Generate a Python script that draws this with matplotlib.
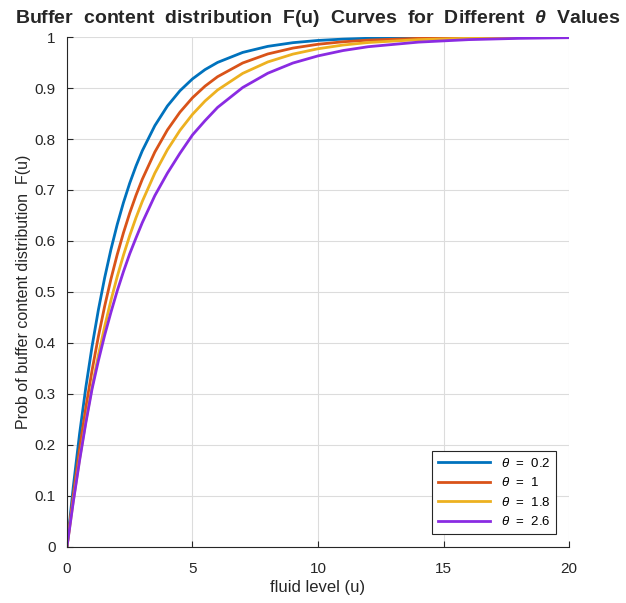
import matplotlib
matplotlib.use("Agg")
import matplotlib.pyplot as plt

# fluid level u and F(u)
u = [0, 0.25, 0.5, 0.75, 1, 1.25, 1.5, 1.75, 2, 2.25, 2.5, 2.75, 3, 3.5, 4, 4.5,
     5, 5.5, 6, 7, 8, 9, 10, 11, 12, 14, 16, 18, 20]

f_02 = [0, 0.1175, 0.2212, 0.3127, 0.3935, 0.4647, 0.5276, 0.5831, 0.6321, 0.6753,
        0.7135, 0.7471, 0.7769, 0.8262, 0.8647, 0.8946, 0.9179, 0.9361, 0.9502,
        0.9698, 0.9817, 0.9889, 0.9933, 0.9959, 0.9975, 0.9991, 0.9997, 0.9999, 1.0]
f_1 = [0, 0.1009, 0.1917, 0.2732, 0.3466, 0.4125, 0.4718, 0.5251, 0.5731, 0.6161,
       0.6549, 0.6897, 0.7210, 0.7745, 0.8177, 0.8526, 0.8809, 0.9037, 0.9222,
       0.9491, 0.9668, 0.9783, 0.9858, 0.9907, 0.9939, 0.9974, 0.9989, 0.9995, 0.9998]
f_18 = [0, 0.0900, 0.1720, 0.2465, 0.3143, 0.3761, 0.4322, 0.4833, 0.5299, 0.5722,
        0.6107, 0.6457, 0.6776, 0.7331, 0.7789, 0.8169, 0.8484, 0.8745, 0.8961,
        0.9287, 0.9511, 0.9665, 0.9770, 0.9843, 0.9892, 0.9949, 0.9976, 0.9989, 0.9995]
f_26 = [0, 0.088, 0.169, 0.243, 0.310, 0.365, 0.415, 0.460, 0.502, 0.540,
        0.575, 0.606, 0.636, 0.689, 0.733, 0.772, 0.808, 0.836, 0.862,
        0.901, 0.929, 0.949, 0.963, 0.9735, 0.981, 0.990, 0.9949, 0.9974, 0.9987]

thetas = ["0.2", "1", "1.8", "2.6"]
colors = ["#0072BD", "#D95319", "#EDB120", "#8A2BE2"]

plt.rcParams["font.family"] = ["Liberation Sans", "DejaVu Sans"]
plt.rcParams["mathtext.fontset"] = "custom"
plt.rcParams["mathtext.rm"] = "Liberation Sans"
plt.rcParams["mathtext.it"] = "Liberation Sans:italic"
plt.rcParams["mathtext.bf"] = "Liberation Sans:bold:italic"

fig = plt.figure(figsize=(6.26, 6.03), dpi=100)
ax = fig.add_axes([0.107, 0.093, 0.802, 0.8456])

for vals, th, c in zip([f_02, f_1, f_18, f_26], thetas, colors):
    ax.plot(u, vals, color=c, linewidth=2.0, label=r"$\mathit{\theta}$  =  " + th)

ax.set_xlim(0, 20)
ax.set_ylim(0, 1)
ax.set_xticks([0, 5, 10, 15, 20])
ax.set_yticks([i / 10 for i in range(11)])
ax.set_yticklabels(["0", "0.1", "0.2", "0.3", "0.4", "0.5", "0.6", "0.7", "0.8", "0.9", "1"])
ax.grid(True, color="#dcdcdc", linewidth=0.8)
ax.set_axisbelow(True)
ax.spines["top"].set_visible(False)
ax.spines["right"].set_visible(False)
for s in ["left", "bottom"]:
    ax.spines[s].set_color("#262626")
    ax.spines[s].set_linewidth(0.8)
ax.tick_params(direction="in", length=4, colors="#262626", labelsize=11, width=0.8)
ax.tick_params(axis="x", pad=11)
ax.tick_params(axis="y", pad=8)

ax.set_xlabel("fluid level (u)", fontsize=12, color="#262626", labelpad=3)
ax.set_ylabel("Prob of buffer content distribution  F(u)", fontsize=11.5,
              color="#262626", labelpad=3)
ax.set_title(r"Buffer  content  distribution  F(u)  Curves  for  Different  $\mathbf{\theta}$  Values",
             fontsize=14, fontweight="bold", color="#262626", pad=10)

leg = ax.legend(loc="lower right", fontsize=9.5, frameon=True, fancybox=False,
                edgecolor="#262626", framealpha=1, borderaxespad=1.0, handlelength=4.0)
leg.get_frame().set_linewidth(0.8)

fig.savefig("out.png", dpi=100)
